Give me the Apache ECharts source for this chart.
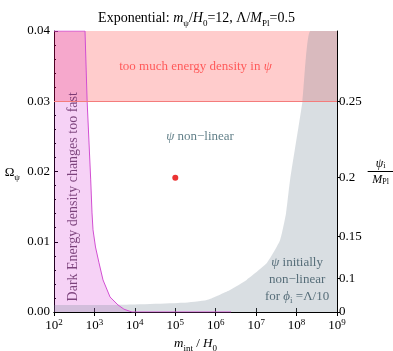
<!DOCTYPE html>
<html>
<head>
<meta charset="utf-8">
<script src="https://cdn.jsdelivr.net/npm/echarts@6/dist/echarts.min.js"></script>
<style>
  html, body { margin: 0; padding: 0; background: #fff; }
  #main { width: 393px; height: 351px; }
</style>
</head>
<body>
<div id="main"></div>
<script>
// 数据：从图中读取
// Dark Energy 边界 (m_int/H0, Ω_ψ)
const mDark = [100, 585, 660, 809, 871, 922, 1062, 1297, 1630, 2430, 3830, 5380, 8490, 2.4e6];
const omegaDark = [0.04, 0.04, 0.03, 0.0188, 0.0141, 0.0117, 0.00925, 0.007, 0.00456, 0.00214, 0.001, 0.0004, 0, 0];

// ψ 初始非线性区域边界
const mGray = [100, 3630, 1.55e5, 6.0e5, 2.2e6, 5.9e6, 1.86e7, 3.9e7, 5.5e7, 6.9e7, 1.4e8, 2.2e8, 1e9];
const omegaGray = [0.001, 0.001, 0.0013, 0.0017, 0.0031, 0.0046, 0.007, 0.0102, 0.0141, 0.0188, 0.03, 0.04, 0.04];

// 能量密度过大区间
const bandOmega = [0.03, 0.04];

// 右轴 ψ_i/M_Pl 刻度及其对应 Ω_ψ 位置
const psiLabels = ['0', '0.1', '0.15', '0.2', '0.25'];
const psiOmega = [0, 0.0048, 0.0108, 0.0192, 0.03];

// 红点
const dot = [1e5, 0.0191];

const serif = 'Liberation Serif';

const chart = echarts.init(document.getElementById('main'));

// 上下标样式
const mathRich = (color, size) => ({
  n: { fontFamily: serif, fontSize: size, fontWeight: 'normal', color, lineHeight: 16, verticalAlign: 'bottom' },
  i: { fontFamily: serif, fontSize: size, fontWeight: 'normal', fontStyle: 'italic', color, lineHeight: 16, verticalAlign: 'bottom' },
  s: { fontFamily: serif, fontSize: 9, fontWeight: 'normal', color, lineHeight: 12, verticalAlign: 'bottom', padding: [0, 0, -3, 0] }
});

const option = {
  animation: false,
  textStyle: { fontFamily: serif },
  title: {
    text: '{n|Exponential: }{i|m}{s|ψ}{n|/}{i|H}{s|0}{n|=12, Λ/}{i|M}{s|Pl}{n|=0.5}',
    left: 'center',
    top: 4,
    textStyle: { fontWeight: 'normal', rich: mathRich('#000', 14) }
  },
  grid: { left: 54, right: 56, top: 31, bottom: 39, outerBoundsMode: 'none', containLabel: false },
  xAxis: [
    {
      type: 'log',
      logBase: 10,
      min: 100,
      max: 1e9,
      splitNumber: 7,
      position: 'bottom',
      axisLine: { lineStyle: { color: '#000', width: 1 } },
      axisTick: { inside: true, length: 4, lineStyle: { color: '#000' } },
      splitLine: { show: false },
      axisLabel: {
        margin: 6,
        formatter: (v) => '{b|10}{sup|' + Math.round(Math.log10(v)) + '}',
        rich: {
          b: { fontFamily: serif, fontSize: 13, color: '#000', lineHeight: 16 },
          sup: { fontFamily: serif, fontSize: 9, color: '#000', lineHeight: 12, verticalAlign: 'top' }
        }
      },
      name: '{i|m}{s|int}{n| / }{i|H}{s|0}',
      nameLocation: 'middle',
      nameGap: 20,
      nameTextStyle: { rich: mathRich('#000', 13) }
    },
    {
      type: 'log',
      logBase: 10,
      min: 100,
      max: 1e9,
      splitNumber: 7,
      position: 'top',
      axisLine: { lineStyle: { color: '#000', width: 1 } },
      axisTick: { inside: true, length: 4, lineStyle: { color: '#000' } },
      splitLine: { show: false },
      axisLabel: { show: false }
    }
  ],
  yAxis: [
    {
      type: 'value',
      min: 0,
      max: 0.04,
      interval: 0.01,
      position: 'left',
      axisLine: { show: true, lineStyle: { color: '#000', width: 1 } },
      axisTick: { show: true, inside: true, length: 4, lineStyle: { color: '#000' } },
      minorTick: { show: true, splitNumber: 5, length: 2, lineStyle: { color: '#000' } },
      splitLine: { show: false },
      axisLabel: {
        margin: 4,
        fontFamily: serif,
        fontSize: 13,
        color: '#000',
        formatter: (v) => v.toFixed(2)
      },
      name: '{n|Ω}{s|ψ}',
      nameLocation: 'middle',
      nameRotate: 0,
      nameGap: 34,
      nameTextStyle: { rich: mathRich('#000', 13) }
    },
    {
      type: 'value',
      min: 0,
      max: 0.04,
      position: 'right',
      axisLine: { show: true, lineStyle: { color: '#000', width: 1 } },
      axisTick: { show: true, inside: false, length: 3, customValues: psiOmega, lineStyle: { color: '#000' } },
      splitLine: { show: false },
      axisLabel: {
        margin: 2,
        fontFamily: serif,
        fontSize: 13,
        color: '#000',
        customValues: psiOmega,
        formatter: (v) => {
          const i = psiOmega.findIndex((p) => Math.abs(p - v) < 1e-6);
          return i >= 0 ? psiLabels[i] : '';
        }
      },
      name: '{num|ψ}{ns|i}\n{bar|}\n{den|M}{ds|Pl}',
      nameLocation: 'middle',
      nameRotate: 0,
      nameGap: 34,
      nameTextStyle: {
        align: 'center',
        rich: {
          num: { fontFamily: serif, fontSize: 12, fontStyle: 'italic', color: '#000', lineHeight: 13 },
          ns: { fontFamily: serif, fontSize: 8, color: '#000', lineHeight: 13, verticalAlign: 'bottom' },
          bar: { width: 26, height: 1, lineHeight: 3, backgroundColor: '#000' },
          den: { fontFamily: serif, fontSize: 12, fontStyle: 'italic', color: '#000', lineHeight: 13 },
          ds: { fontFamily: serif, fontSize: 8, color: '#000', lineHeight: 13, verticalAlign: 'bottom' }
        }
      }
    }
  ],
  series: [
    {
      // 能量密度过大区间
      type: 'line',
      data: [],
      silent: true,
      markArea: {
        silent: true,
        itemStyle: { color: 'rgba(255, 0, 0, 0.2)' },
        label: {
          show: true,
          position: 'inside',
          fontFamily: serif,
          fontSize: 13,
          color: '#ff5a5a',
          formatter: 'too much energy density in {i|ψ}',
          rich: { i: { fontFamily: serif, fontSize: 13, fontStyle: 'italic', color: '#ff5a5a' } }
        },
        data: [[{ yAxis: bandOmega[0] }, { yAxis: bandOmega[1] }]]
      },
      markLine: {
        silent: true,
        symbol: 'none',
        label: { show: false },
        lineStyle: { color: '#f47c7c', type: 'solid', width: 1 },
        data: [{ yAxis: bandOmega[0] }]
      }
    },
    {
      // Dark Energy 变化过快
      type: 'line',
      data: mDark.map((m, i) => [m, omegaDark[i]]),
      showSymbol: false,
      smooth: false,
      silent: true,
      lineStyle: { color: '#d24ed2', width: 1 },
      areaStyle: { color: 'rgba(204, 0, 204, 0.25)' }
    },
    {
      // ψ 初始非线性
      type: 'line',
      data: mGray.map((m, i) => [m, omegaGray[i]]),
      showSymbol: false,
      smooth: 0.15,
      silent: true,
      lineStyle: { width: 0 },
      areaStyle: { color: 'rgba(120, 135, 150, 0.4)' }
    },
    {
      // 文本注释
      type: 'scatter',
      symbolSize: 0,
      silent: true,
      z: 5,
      data: [
        {
          value: [4.1e5, 0.0249],
          label: {
            show: true, position: 'inside',
            formatter: '{i|ψ} non−linear',
            fontFamily: serif, fontSize: 13, color: '#3a5f6a',
            rich: { i: { fontFamily: serif, fontSize: 13, fontStyle: 'italic', color: '#3a5f6a' } }
          }
        },
        {
          value: [295, 0.0164],
          label: {
            show: true, position: 'inside', rotate: 90,
            formatter: 'Dark Energy density changes too fast',
            fontFamily: serif, fontSize: 14, color: '#5e1f5e'
          }
        },
        {
          value: [1.03e8, 0.00456],
          label: {
            show: true, position: 'inside', align: 'center',
            formatter: '{i|ψ} initially\nnon−linear\nfor {i|ϕ}{s|i} =Λ/10',
            fontFamily: serif, fontSize: 13, color: '#34505e', lineHeight: 17,
            rich: {
              i: { fontFamily: serif, fontSize: 13, fontStyle: 'italic', color: '#34505e', lineHeight: 17 },
              s: { fontFamily: serif, fontSize: 9, color: '#34505e', lineHeight: 17, verticalAlign: 'bottom' }
            }
          }
        }
      ]
    },
    {
      // 红点
      type: 'scatter',
      symbol: 'circle',
      symbolSize: 6,
      silent: true,
      itemStyle: { color: '#e60000' },
      data: [dot]
    }
  ]
};

chart.setOption(option);
</script>
</body>
</html>
